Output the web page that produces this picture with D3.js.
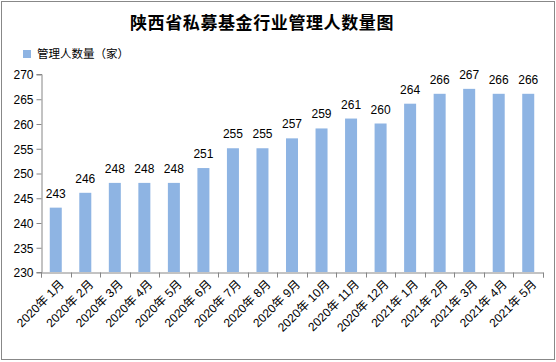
<!DOCTYPE html>
<html>
<head>
<meta charset="utf-8">
<script src="https://cdn.jsdelivr.net/npm/d3@7"></script>
<style>
  body { margin: 0; background: #fff; }
  text { font-family: "Liberation Sans", "Noto Sans CJK SC", sans-serif; }
</style>
</head>
<body>
<script>
var months = ['2020年 1月', '2020年 2月', '2020年 3月', '2020年 4月', '2020年 5月', '2020年 6月',
  '2020年 7月', '2020年 8月', '2020年 9月', '2020年 10月', '2020年 11月', '2020年 12月',
  '2021年 1月', '2021年 2月', '2021年 3月', '2021年 4月', '2021年 5月']
var counts = [243, 246, 248, 248, 248, 251, 255, 255, 257, 259, 261, 260, 264, 266, 267, 266, 266]
var yTicks = [230, 235, 240, 245, 250, 255, 260, 265, 270]

var options = {
  width: 556,
  height: 362,
  left: 41,
  right: 543,
  top: 74,
  bottom: 272,
  barColor: '#8eb4e3',
  axisColor: '#868686'
}

var svg = d3.select('body').append('svg')
  .attr('width', options.width)
  .attr('height', options.height)

// outer frame
svg.append('rect')
  .attr('x', 1.5).attr('y', 1.5)
  .attr('width', options.width - 3).attr('height', options.height - 4)
  .attr('fill', '#fff').attr('stroke', '#888').attr('stroke-width', 1)

svg.append('text')
  .attr('x', 262).attr('y', 29)
  .attr('text-anchor', 'middle')
  .style('font-family', '"Noto Sans CJK SC", sans-serif')
  .style('font-size', '17px').style('font-weight', 'bold')
  .style('letter-spacing', '0.6px')
  .text('陕西省私募基金行业管理人数量图')

// legend
svg.append('rect').attr('x', 23).attr('y', 50).attr('width', 8).attr('height', 8).attr('fill', options.barColor)
svg.append('text')
  .attr('x', 37).attr('y', 58)
  .style('font-family', '"Noto Sans CJK SC", sans-serif')
  .style('font-size', '11.5px')
  .text('管理人数量（家）')

var x = d3.scaleBand().domain(months).range([options.left, options.right])
var y = d3.scaleLinear().domain([230, 270]).range([options.bottom, options.top])

var yAxis = svg.append('g')
  .attr('transform', 'translate(' + (options.left + 0.5) + ',0)')
  .call(d3.axisLeft(y).tickValues(yTicks).tickSize(5).tickPadding(3))
yAxis.select('.domain').attr('stroke', options.axisColor)
yAxis.selectAll('.tick line').attr('stroke', options.axisColor).attr('transform', 'translate(0,0.5)')
yAxis.selectAll('.tick text').style('font-size', '12px').attr('fill', '#000')
  .style('font-family', '"Liberation Sans", sans-serif').attr('dy', '0.4em')

var xAxis = svg.append('g')
  .attr('transform', 'translate(0,' + (options.bottom + 0.5) + ')')
  .call(d3.axisBottom(x).tickSize(5).tickFormat(''))
xAxis.select('.domain').attr('stroke', options.axisColor)
// ticks sit on the band edges, not the centers
xAxis.selectAll('.tick').remove()
var edges = months.map(function(d) { return x(d) + x.bandwidth() }).concat([x(months[0])])
xAxis.selectAll('line.edge').data(edges).enter().append('line')
  .attr('class', 'edge')
  .attr('x1', function(d) { return Math.round(d) + 0.5 })
  .attr('x2', function(d) { return Math.round(d) + 0.5 })
  .attr('y1', 0).attr('y2', 5)
  .attr('stroke', options.axisColor)

svg.selectAll('text.xlab').data(months).enter().append('text')
  .attr('class', 'xlab')
  .attr('transform', function(d) {
    return 'translate(' + (x(d) + x.bandwidth() / 2 + 6) + ',' + (options.bottom + 10) + ') rotate(-45)'
  })
  .attr('text-anchor', 'end')
  .attr('dy', '0.35em')
  .style('font-family', '"Liberation Sans", "Noto Sans CJK SC", sans-serif')
  .style('font-size', '12px')
  .text(function(d) { return d })

var barWidth = 12
svg.selectAll('rect.bar').data(counts).enter().append('rect')
  .attr('class', 'bar')
  .attr('x', function(d, i) { return x(months[i]) + (x.bandwidth() - barWidth) / 2 })
  .attr('y', function(d) { return y(d) })
  .attr('width', barWidth)
  .attr('height', function(d) { return options.bottom - y(d) })
  .attr('fill', options.barColor)

svg.selectAll('text.val').data(counts).enter().append('text')
  .attr('class', 'val')
  .attr('x', function(d, i) { return x(months[i]) + x.bandwidth() / 2 })
  .attr('y', function(d) { return y(d) - 10 })
  .attr('text-anchor', 'middle')
  .style('font-size', '12px')
  .text(function(d) { return d })
</script>
</body>
</html>
